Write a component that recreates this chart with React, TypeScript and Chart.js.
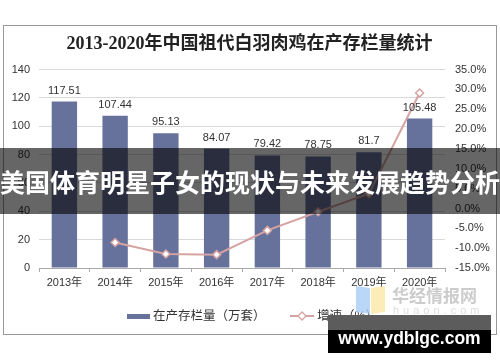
import React, { useEffect, useRef } from "react";
import { Chart, registerables } from "chart.js";

Chart.register(...registerables);

const titleText = "2013-2020年中国祖代白羽肉鸡在产存栏量统计";
const years = ["2013年", "2014年", "2015年", "2016年", "2017年", "2018年", "2019年", "2020年"];
const stock = [117.51, 107.44, 95.13, 84.07, 79.42, 78.75, 81.7, 105.48];
const growth = [null, -8.57, -11.46, -11.63, -5.53, -0.84, 3.75, 29.11];
const barLabel = "在产存栏量（万套）";
const lineLabel = "增速（%）";
const bannerText = "美国体育明星子女的现状与未来发展趋势分析";
const watermark = "www.ydblgc.com";

const BAR = "#67729c";
const LINE = "#d6a3a3";
const FONT = "'Liberation Sans', Arial, 'Noto Sans CJK SC', sans-serif";

const labelPlugin = {
  id: "barLabels",
  afterDatasetsDraw(chart: any) {
    const ctx = chart.ctx;
    const idx = chart.data.datasets.findIndex((d: any) => d.type === "bar");
    const meta = chart.getDatasetMeta(idx);
    ctx.save();
    ctx.font = "11px " + FONT;
    ctx.fillStyle = "#333";
    ctx.textAlign = "center";
    ctx.textBaseline = "middle";
    meta.data.forEach((el: any, i: number) => {
      ctx.fillText(String(stock[i]), el.x, el.y - 11);
    });
    ctx.restore();
  },
};

export default function App() {
  const ref = useRef<HTMLCanvasElement>(null);
  useEffect(() => {
    if (!ref.current) return;
    const chart = new Chart(ref.current, {
      type: "bar",
      data: {
        labels: years,
        datasets: [
          {
            type: "line",
            label: lineLabel,
            data: growth,
            yAxisID: "y1",
            borderColor: LINE,
            borderWidth: 2,
            pointStyle: "rectRot",
            pointRadius: 4,
            pointBackgroundColor: "#fff",
            pointBorderColor: LINE,
            pointBorderWidth: 1.5,
            spanGaps: true,
            order: 0,
          } as any,
          {
            type: "bar",
            label: barLabel,
            data: stock,
            yAxisID: "y",
            backgroundColor: BAR,
            barPercentage: 0.5,
            categoryPercentage: 1,
            order: 1,
          } as any,
        ],
      },
      plugins: [labelPlugin],
      options: {
        animation: false,
        responsive: false,
        maintainAspectRatio: false,
        layout: { padding: 0 },
        plugins: {
          legend: { display: false },
          tooltip: { enabled: false },
          title: {
            display: true,
            text: titleText,
            color: "#222",
            font: { size: 18, weight: "bold", family: "'Liberation Serif', 'Noto Sans CJK SC', serif" },
            padding: { top: 8, bottom: 14 },
          },
        },
        scales: {
          x: {
            type: "category",
            offset: true,
            grid: { display: true, drawOnChartArea: false, offset: true, drawTicks: true, tickLength: 4, color: "#aaa" },
            border: { display: true, color: "#aaa" },
            ticks: { color: "#333", font: { size: 11, family: FONT }, padding: 4, maxRotation: 0 },
            afterFit: (s: any) => { s.height = 65; },
          },
          y: {
            position: "left",
            min: 0,
            max: 140,
            ticks: { stepSize: 20, color: "#333", font: { size: 11, family: FONT }, padding: 9 },
            grid: { color: "#d9d9d9", drawTicks: false },
            border: { display: false },
            afterFit: (s: any) => { s.width = 35; },
          },
          y1: {
            position: "right",
            min: -15,
            max: 35,
            ticks: {
              stepSize: 5,
              color: "#333",
              font: { size: 11, family: FONT },
              padding: 10,
              callback: (v: any) => Number(v).toFixed(1) + "%",
            },
            grid: { display: false, drawTicks: false },
            border: { display: false },
            afterFit: (s: any) => { s.width = 50; },
          },
        },
      } as any,
    });
    return () => chart.destroy();
  }, []);

  return (
    <div style={{ position: "absolute", left: 0, top: 0, width: 500, height: 362, background: "#fff", overflow: "hidden", fontFamily: FONT }}>
      <div style={{ position: "absolute", left: 3, top: 25, width: 492, height: 308, border: "1px solid #999" }} />
      <canvas ref={ref} width={491} height={307} style={{ position: "absolute", left: 4, top: 26, width: 491, height: 307 }} />
      {/* legend */}
      <div style={{ position: "absolute", left: 127, top: 314, width: 23, height: 5, background: BAR }} />
      <div style={{ position: "absolute", left: 153, top: 308, fontSize: 12.5, lineHeight: "17px", color: "#333", whiteSpace: "nowrap" }}>{barLabel}</div>
      <svg style={{ position: "absolute", left: 289, top: 310 }} width={26} height={12}>
        <line x1={1} y1={6} x2={25} y2={6} stroke={LINE} strokeWidth={2} />
        <polygon points="13,2 17,6 13,10 9,6" fill="#fff" stroke={LINE} strokeWidth={1.3} />
      </svg>
      <div style={{ position: "absolute", left: 317, top: 308, fontSize: 12.5, lineHeight: "17px", color: "#333", whiteSpace: "nowrap" }}>{lineLabel}</div>
      {/* faint logo watermark */}
      <div style={{ position: "absolute", left: 356, top: 287, width: 14, height: 26, background: "#a9cdf5", opacity: 0.8, transform: "skewY(8deg)" }} />
      <div style={{ position: "absolute", left: 371, top: 287, width: 14, height: 26, background: "#fbe9a6", opacity: 0.8, transform: "skewY(-8deg)" }} />
      <div style={{ position: "absolute", left: 392, top: 284, fontSize: 17, lineHeight: "22px", color: "#ccc", fontWeight: "bold", whiteSpace: "nowrap", fontFamily: "'Noto Sans CJK SC', sans-serif" }}>华经情报网</div>
      <div style={{ position: "absolute", left: 393, top: 304, fontSize: 11, lineHeight: "12px", color: "#ddd", letterSpacing: 4, whiteSpace: "nowrap" }}>huaon.com</div>
      {/* banner */}
      <div style={{ position: "absolute", left: 0, top: 148, width: 500, height: 66, background: "rgba(0,0,0,0.6)" }} />
      <div style={{ position: "absolute", left: 0, top: 166, width: 500, textAlign: "center", fontSize: 25, lineHeight: "30px", fontWeight: "bold", color: "#fff", whiteSpace: "nowrap", fontFamily: "'Noto Sans CJK SC', sans-serif" }}>{bannerText}</div>
      {/* site watermark */}
      <div style={{ position: "absolute", left: 328, top: 315, width: 163, height: 15, background: "#5c5c5c" }} />
      <div style={{ position: "absolute", left: 328, top: 330, width: 163, height: 23, background: "#000" }} />
      <div style={{ position: "absolute", left: 328, top: 326, width: 163, textAlign: "center", fontSize: 17.5, lineHeight: "24px", fontWeight: "bold", color: "#fff", whiteSpace: "nowrap", fontFamily: "'Liberation Sans', Arial, sans-serif" }}>{watermark}</div>
    </div>
  );
}
